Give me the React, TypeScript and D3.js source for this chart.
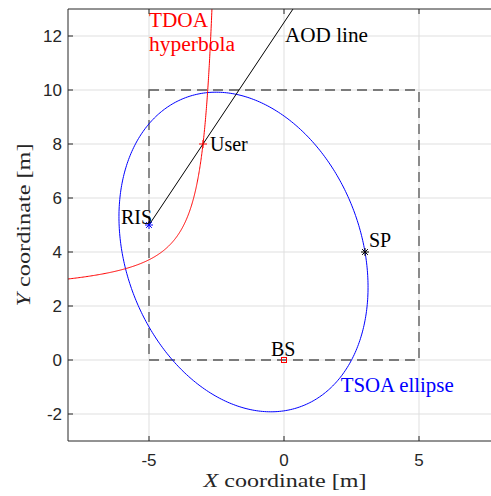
import React from "react";
import * as d3 from "d3";

// ---- data ----
const xTicks = [-5, 0, 5];
const yTicks = [-2, 0, 2, 4, 6, 8, 10, 12];
const xDomain = [-8, 8];
const yDomain = [-3, 13];

const bsPos = [0, 0];
const risPos = [-5, 5];
const userPos = [-3, 8];
const spPos = [3, 4];

// room boundary (dashed)
const roomX = [-5, 5];
const roomY = [0, 10];

// TSOA ellipse: foci BS & User, passes through SP
const ellipseFoci = [bsPos, userPos];
const ellipseThrough = spPos;
// TDOA hyperbola: foci BS & RIS, passes through User
const hyperFoci = [bsPos, risPos];
const hyperThrough = userPos;

const W = 491;
const H = 496;
const M = { left: 68, top: 9 };
const PX = 27; // px per metre (axis equal)

const dist = (p: number[], q: number[]) => Math.hypot(p[0] - q[0], p[1] - q[1]);

export default function App() {
  const x = d3.scaleLinear().domain(xDomain).range([M.left, M.left + (xDomain[1] - xDomain[0]) * PX]);
  const y = d3.scaleLinear().domain(yDomain).range([M.top + (yDomain[1] - yDomain[0]) * PX, M.top]);
  const x0 = x.range()[0];
  const y0 = y.range()[0];
  const y1 = y.range()[1];

  const line = d3.line<number[]>().x((d) => x(d[0])).y((d) => y(d[1]));

  // ellipse
  const [f1, f2] = ellipseFoci;
  const sumD = dist(ellipseThrough, f1) + dist(ellipseThrough, f2);
  const ea = sumD / 2;
  const ec = dist(f1, f2) / 2;
  const eb = Math.sqrt(ea * ea - ec * ec);
  const ecx = (f1[0] + f2[0]) / 2, ecy = (f1[1] + f2[1]) / 2;
  const eth = Math.atan2(f2[1] - f1[1], f2[0] - f1[0]);
  const ellipsePts = d3.range(0, 2 * Math.PI + 0.001, Math.PI / 200).map((t) => [
    ecx + ea * Math.cos(t) * Math.cos(eth) - eb * Math.sin(t) * Math.sin(eth),
    ecy + ea * Math.cos(t) * Math.sin(eth) + eb * Math.sin(t) * Math.cos(eth),
  ]);

  // hyperbola (branch nearer RIS)
  const [h1, h2] = hyperFoci;
  const diffD = Math.abs(dist(hyperThrough, h1) - dist(hyperThrough, h2));
  const ha = diffD / 2;
  const hc = dist(h1, h2) / 2;
  const hb = Math.sqrt(hc * hc - ha * ha);
  const hcx = (h1[0] + h2[0]) / 2, hcy = (h1[1] + h2[1]) / 2;
  const ux = (h1[0] - h2[0]) / (2 * hc), uy = (h1[1] - h2[1]) / (2 * hc); // toward BS
  const vx = -uy, vy = ux;
  const hyperPts = d3.range(-4, 4.0001, 0.01).map((t) => {
    const A = -ha * Math.cosh(t), B = hb * Math.sinh(t);
    return [hcx + A * ux + B * vx, hcy + A * uy + B * vy];
  });

  // AOD line from RIS through User
  const dx = userPos[0] - risPos[0], dy = userPos[1] - risPos[1];
  const aodPts = [risPos, [risPos[0] + dx * 10, risPos[1] + dy * 10]];

  const tickLen = 5;
  const axisColor = "#262626";
  const serif = "'Liberation Serif', 'Times New Roman', serif";
  const sans = "'Liberation Sans', Arial, Helvetica, sans-serif";

  const star = (p: number[], color: string, r = 4) => {
    const cx = x(p[0]), cy = y(p[1]);
    const d = r * 0.72;
    return (
      <g stroke={color} strokeWidth={1}>
        <line x1={cx - r} y1={cy} x2={cx + r} y2={cy} />
        <line x1={cx} y1={cy - r} x2={cx} y2={cy + r} />
        <line x1={cx - d} y1={cy - d} x2={cx + d} y2={cy + d} />
        <line x1={cx - d} y1={cy + d} x2={cx + d} y2={cy - d} />
      </g>
    );
  };

  return (
    <div style={{ position: "fixed", left: 0, top: 0 }}>
      <svg width={W} height={H} style={{ display: "block", background: "#fff" }}>
        <defs>
          <clipPath id="plot">
            <rect x={x0} y={y1} width={W - x0} height={y0 - y1} />
          </clipPath>
        </defs>
        {/* grid */}
        <g stroke="#dfdfdf" strokeWidth={1}>
          {xTicks.map((t) => (
            <line key={"gx" + t} x1={x(t)} x2={x(t)} y1={y0} y2={y1} />
          ))}
          {yTicks.map((t) => (
            <line key={"gy" + t} x1={x0} x2={W} y1={y(t)} y2={y(t)} />
          ))}
        </g>
        <g clipPath="url(#plot)" fill="none">
          <rect
            x={x(roomX[0])}
            y={y(roomY[1])}
            width={x(roomX[1]) - x(roomX[0])}
            height={y(roomY[0]) - y(roomY[1])}
            stroke="#555"
            strokeWidth={1.3}
            strokeDasharray="10,6"
          />
          <path d={line(ellipsePts) || ""} stroke="#0000ff" strokeWidth={1} />
          <path d={line(hyperPts) || ""} stroke="#ff0000" strokeWidth={1} />
          <path d={line(aodPts) || ""} stroke="#000" strokeWidth={1} />
        </g>
        {/* markers */}
        {star(risPos, "#0000ff")}
        {star(spPos, "#000")}
        <g stroke="#ff0000" strokeWidth={1}>
          <line x1={x(userPos[0]) - 4} x2={x(userPos[0]) + 4} y1={y(userPos[1])} y2={y(userPos[1])} />
          <line x1={x(userPos[0])} x2={x(userPos[0])} y1={y(userPos[1]) - 4} y2={y(userPos[1]) + 4} />
        </g>
        <rect x={x(bsPos[0]) - 2.5} y={y(bsPos[1]) - 2.5} width={5} height={5} fill="none" stroke="#ff0000" strokeWidth={1} />

        {/* annotations */}
        <g fontFamily={serif} fontSize={20}>
          <text x={x(-5)} y={27} fill="#ff0000" textLength={59} lengthAdjust="spacingAndGlyphs">TDOA</text>
          <text x={x(-5)} y={51} fill="#ff0000" textLength={86} lengthAdjust="spacingAndGlyphs">hyperbola</text>
          <text x={x(0) + 1} y={42} fill="#000" textLength={83} lengthAdjust="spacingAndGlyphs">AOD line</text>
          <text x={x(userPos[0]) + 7} y={y(userPos[1]) + 7} fill="#000">User</text>
          <text x={x(risPos[0]) - 28} y={y(risPos[1]) - 1} fill="#000">RIS</text>
          <text x={x(spPos[0]) + 4} y={y(spPos[1]) - 5} fill="#000">SP</text>
          <text x={x(bsPos[0]) - 13} y={y(bsPos[1]) - 4} fill="#000">BS</text>
          <text x={x(2.1)} y={y(-1.2)} fill="#0000ff" textLength={113} lengthAdjust="spacingAndGlyphs">TSOA ellipse</text>
        </g>

        {/* axes */}
        <g stroke={axisColor} strokeWidth={1} fill="none">
          <line x1={x0} x2={x0} y1={y0} y2={y1} />
          <line x1={x0} x2={W} y1={y0} y2={y0} />
          <line x1={x0} x2={W} y1={y1} y2={y1} />
          {xTicks.map((t) => (
            <g key={"tx" + t}>
              <line x1={x(t)} x2={x(t)} y1={y0} y2={y0 - tickLen} />
              <line x1={x(t)} x2={x(t)} y1={y1} y2={y1 + tickLen} />
            </g>
          ))}
          {yTicks.map((t) => (
            <line key={"ty" + t} x1={x0} x2={x0 + tickLen} y1={y(t)} y2={y(t)} />
          ))}
        </g>
        <g fontFamily={sans} fontSize={17} fill={axisColor}>
          {xTicks.map((t) => (
            <text key={"lx" + t} x={x(t)} y={y0 + 25} textAnchor="middle">
              {t}
            </text>
          ))}
          {yTicks.map((t) => (
            <text key={"ly" + t} x={x0 - 6} y={y(t)} textAnchor="end" dominantBaseline="central">
              {t}
            </text>
          ))}
        </g>
        <text x={285} y={487} textAnchor="middle" fontFamily={serif} fontSize={19} fill={axisColor} textLength={163} lengthAdjust="spacingAndGlyphs">
          <tspan fontStyle="italic">X</tspan> coordinate [m]
        </text>
        <text
          transform={`translate(30,${(y0 + y1) / 2}) rotate(-90)`}
          textAnchor="middle"
          fontFamily={serif}
          fontSize={19}
          fill={axisColor}
          textLength={163}
          lengthAdjust="spacingAndGlyphs"
        >
          <tspan fontStyle="italic">Y</tspan> coordinate [m]
        </text>
      </svg>
    </div>
  );
}
